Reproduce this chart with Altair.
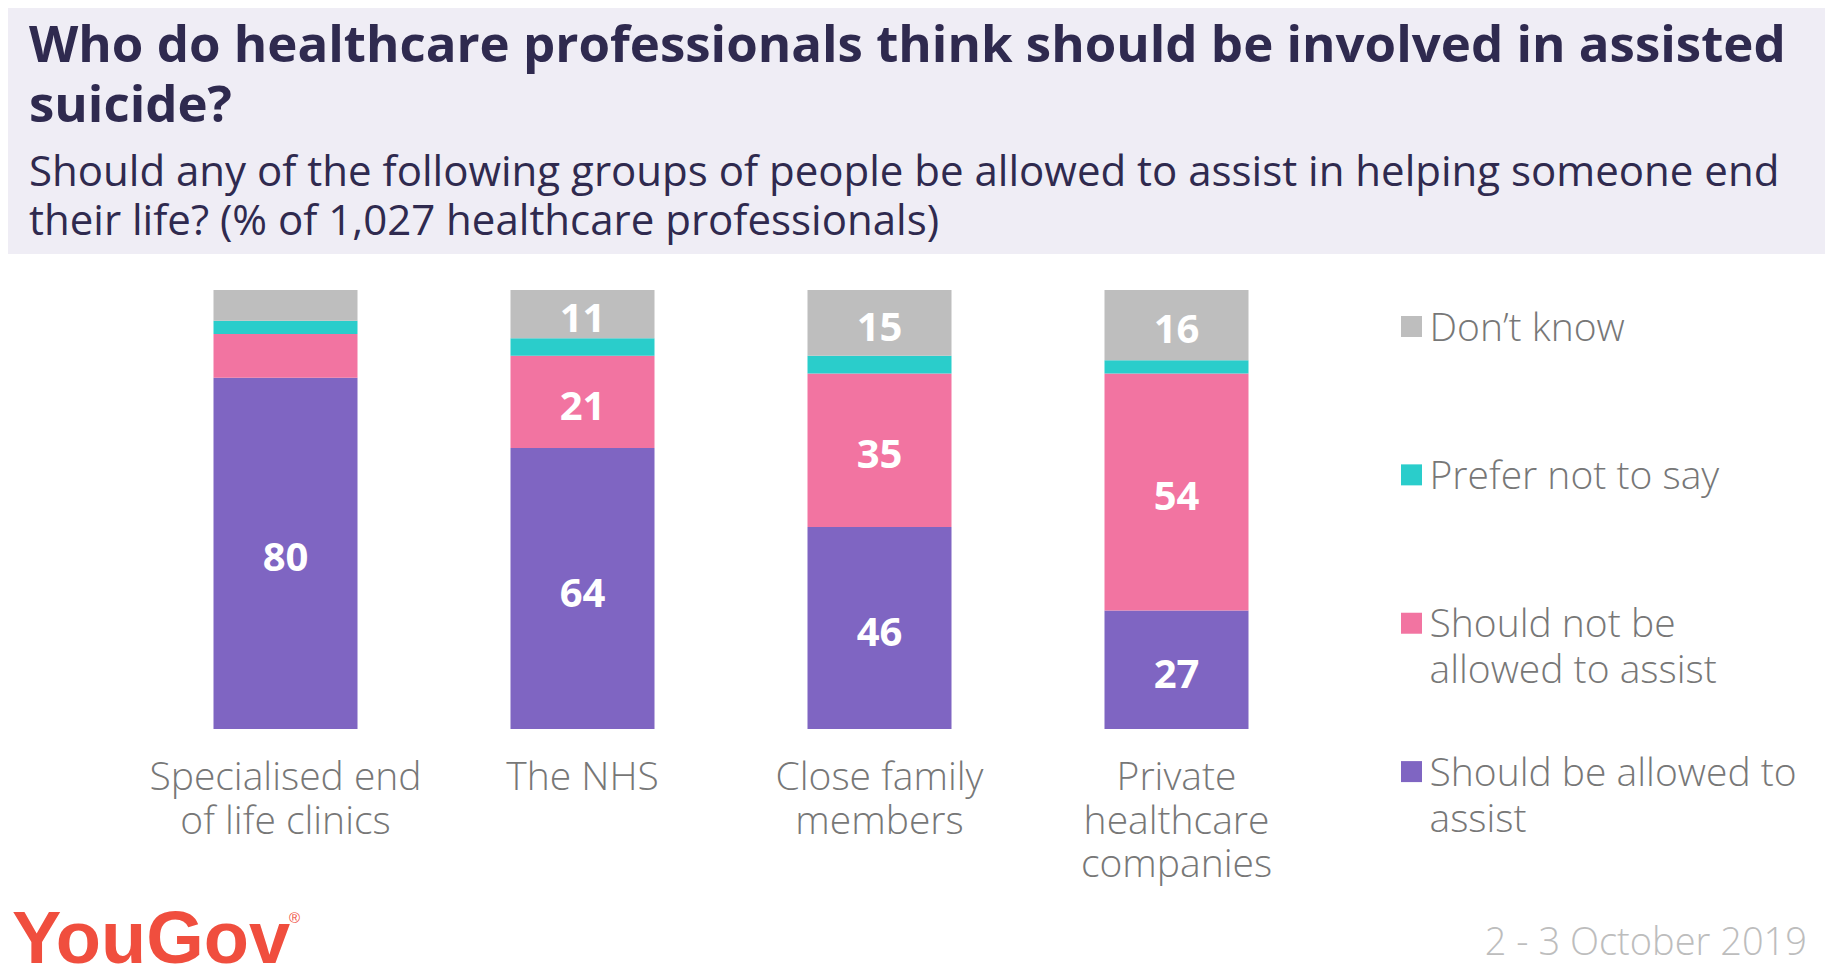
import json
import altair as alt
import pandas as pd

# ---------------- data ----------------
categories = [
    "Specialised end of life clinics",
    "The NHS",
    "Close family members",
    "Private healthcare companies",
]
category_lines = [
    ["Specialised end", "of life clinics"],
    ["The NHS"],
    ["Close family", "members"],
    ["Private", "healthcare", "companies"],
]
series = [
    "Should be allowed to assist",
    "Should not be allowed to assist",
    "Prefer not to say",
    "Don\u2019t know",
]
legend_labels = [
    "Should be allowed to\nassist",
    "Should not be\nallowed to assist",
    "Prefer not to say",
    "Don\u2019t know",
]
allowed = [80, 64, 46, 27]
not_allowed = [10, 21, 35, 54]
prefer_not = [3, 4, 4, 3]
dont_know = [7, 11, 15, 16]
colors = ["#7F65C2", "#F274A1", "#2ACDCB", "#BEBEBE"]

title_text = "Who do healthcare professionals think should be involved in assisted\nsuicide?"
subtitle_text = ("Should any of the following groups of people be allowed to assist in helping someone end\n"
                 "their life? (% of 1,027 healthcare professionals)")
date_text = "2 - 3 October 2019"
brand_text = "YouGov"

# ---------------- tables ----------------
rows = []
for vals, s_i in zip([allowed, not_allowed, prefer_not, dont_know], range(4)):
    for c, v in zip(categories, vals):
        rows.append({"category": c, "series": series[s_i], "value": v, "order": s_i})
df = pd.DataFrame(rows)

leg_df = pd.DataFrame({"series": series, "label": legend_labels})
legend_order = series[::-1]

# ---------------- layout ----------------
L, T, W, H = 129, 282, 1188, 439
R = 1817 - L - W
B = 959 - T - H

label_expr = " : ".join(
    f"datum.label == '{c}' ? {json.dumps(lines)}" for c, lines in zip(categories, category_lines)
) + " : datum.label"

x_enc = alt.X(
    "category:N",
    sort=categories,
    title=None,
    scale=alt.Scale(paddingInner=0.515, paddingOuter=0.2575),
    axis=alt.Axis(
        labelExpr=label_expr,
        labelAngle=0,
        labelFont="Open Sans",
        labelFontWeight=300,
        labelFontSize=39,
        labelColor="#777777",
        labelLineHeight=43.5,
        labelBaseline="top",
        labelPadding=29.5,
        labelLimit=0,
        domain=False,
        ticks=False,
        tickSize=0,
        grid=False,
    ),
)
color_enc = alt.Color("series:N", scale=alt.Scale(domain=series, range=colors), legend=None)

bars = alt.Chart(df).mark_bar(width=144).encode(
    x=x_enc,
    y=alt.Y("value:Q", stack="zero", scale=alt.Scale(domain=[0, 100]), axis=None),
    color=color_enc,
    order=alt.Order("order:Q", sort="ascending"),
)

bar_labels = (
    alt.Chart(df)
    .transform_stack(
        stack="value",
        groupby=["category"],
        sort=[alt.SortField("order", order="ascending")],
        as_=["y0", "y1"],
    )
    .transform_calculate(mid="(datum.y0 + datum.y1) / 2")
    .transform_filter("datum.value >= 11")
    .mark_text(font="Open Sans", fontWeight="bold", fontSize=40, color="white",
               baseline="middle", align="center", dy=6)
    .encode(
        x=alt.X("category:N", sort=categories),
        y=alt.Y("mid:Q", scale=alt.Scale(domain=[0, 100]), axis=None),
        text="value:Q",
    )
)

one = pd.DataFrame({"t": [title_text], "s": [subtitle_text], "d": [date_text], "b": [brand_text]})

header = alt.Chart(one).mark_rect(color="#EFEDF5").encode(
    x=alt.value(-L), x2=alt.value(W + R), y=alt.value(-T), y2=alt.value(-36)
)
title = alt.Chart(one).mark_text(
    align="left", baseline="top", lineBreak="\n", font="Open Sans", fontWeight="bold",
    fontSize=51, lineHeight=60, color="#2F2A4F"
).encode(x=alt.value(-108), y=alt.value(-268.5), text="t:N")
subtitle = alt.Chart(one).mark_text(
    align="left", baseline="top", lineBreak="\n", font="Open Sans",
    fontSize=42, lineHeight=49, color="#2F2A4F"
).encode(x=alt.value(-108), y=alt.value(-137.5), text="s:N")

legend_y = alt.Y("series:N", scale=alt.Scale(type="point", domain=legend_order,
                                             range=[36.5, 481.6], padding=0), axis=None)
leg_sq = alt.Chart(leg_df).mark_square(size=441, opacity=1).encode(
    x=alt.value(1274.5), y=legend_y, color=color_enc
)
leg_tx = alt.Chart(leg_df).mark_text(
    align="left", baseline="top", lineBreak="\n", font="Open Sans", fontWeight=300,
    fontSize=39, lineHeight=46, color="#777777", dy=-17
).encode(x=alt.value(1292.5), y=legend_y, text="label:N")

logo = alt.Chart(one).mark_text(
    align="left", baseline="alphabetic", font="Liberation Sans", fontWeight="bold",
    fontSize=74, color="#F04E3E"
).encode(x=alt.value(-125), y=alt.value(673), text="b:N")
reg = alt.Chart(one).mark_text(
    align="left", baseline="alphabetic", font="Liberation Sans", fontSize=15, color="#F04E3E"
).encode(x=alt.value(152), y=alt.value(633), text=alt.value("\u00ae"))
date = alt.Chart(one).mark_text(
    align="right", baseline="alphabetic", font="Open Sans", fontWeight=300,
    fontSize=38, color="#BDBDBD"
).encode(x=alt.value(1670), y=alt.value(665), text="d:N")

chart = (
    alt.layer(header, title, subtitle, bars, bar_labels, leg_sq, leg_tx, logo, reg, date)
    .resolve_scale(y="independent")
    .properties(
        width=W,
        height=H,
        padding={"left": L, "top": T, "right": R, "bottom": B},
        autosize=alt.AutoSizeParams(type="none"),
        background="white",
    )
    .configure_view(strokeWidth=0)
)

chart.save("out.html", embed_options={"renderer": "svg", "actions": False})
